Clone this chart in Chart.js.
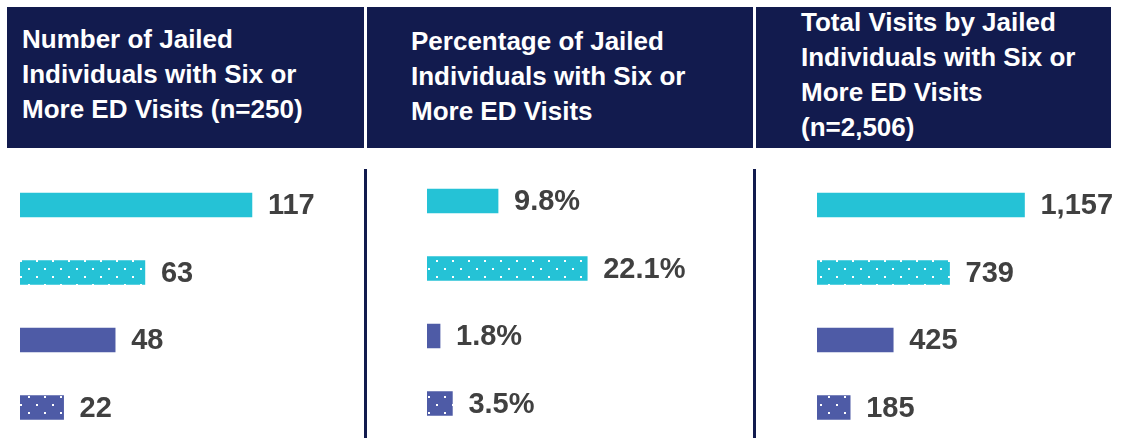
<!DOCTYPE html>
<html>
<head>
<meta charset="utf-8">
<title>Jailed Individuals with Six or More ED Visits</title>
<script src="https://cdn.jsdelivr.net/npm/chart.js@4/dist/chart.umd.min.js"></script>
<style>
  body { margin: 0; background: #fff; }
  #wrap { position: relative; width: 1125px; height: 438px; overflow: hidden; background: #fff; }
  .head { position: absolute; top: 7px; height: 141px; background: #121b4e; }
  .head .txt {
    position: absolute;
    color: #fff;
    font-family: 'Liberation Sans', Arial, sans-serif;
    font-weight: bold;
    font-size: 26px;
    line-height: 35px;
    white-space: nowrap;
  }
  .divider { position: absolute; top: 169px; width: 3px; height: 269px; background: #121b4e; }
  canvas { position: absolute; }
</style>
</head>
<body>
<div id="wrap">
  <div class="head" style="left:7px;width:357px">
    <div class="txt" style="left:15px;top:15px">Number of Jailed<br>Individuals with Six or<br>More ED Visits (n=250)</div>
  </div>
  <div class="head" style="left:367px;width:386px">
    <div class="txt" style="left:44px;top:17px">Percentage of Jailed<br>Individuals with Six or<br>More ED Visits</div>
  </div>
  <div class="head" style="left:756px;width:355px">
    <div class="txt" style="left:45px;top:-2px">Total Visits by Jailed<br>Individuals with Six or<br>More ED Visits<br>(n=2,506)</div>
  </div>

  <div class="divider" style="left:364px"></div>
  <div class="divider" style="left:753px"></div>

  <canvas id="countChart" width="364" height="290" style="left:0;top:160px"></canvas>
  <canvas id="shareChart" width="386" height="290" style="left:367px;top:156px"></canvas>
  <canvas id="visitChart" width="369" height="290" style="left:756px;top:160px"></canvas>
</div>

<script>
// groups are the same four rows in every panel
const groups = ['Group 1', 'Group 2', 'Group 3', 'Group 4'];
const jailedCounts = [117, 63, 48, 22];
const jailedShares = [9.8, 22.1, 1.8, 3.5];
const visitTotals = [1157, 739, 425, 185];

const CYAN = '#25c2d6';
const BLUE = '#4e5ba6';
const LABEL_COLOR = '#404040';

// white dot lattice over a base colour, anchored to the page so all panels line up
function dotPattern(ctx, color, left, top) {
  const tile = document.createElement('canvas');
  tile.width = 16;
  tile.height = 16;
  const g = tile.getContext('2d');
  g.fillStyle = color;
  g.fillRect(0, 0, 16, 16);
  g.fillStyle = '#fff';
  g.fillRect(4, 4, 2, 2);
  g.fillRect(12, 12, 2, 2);
  const p = ctx.createPattern(tile, 'repeat');
  p.setTransform(new DOMMatrix([1, 0, 0, 1, -(left % 16), -(top % 16)]));
  return p;
}

// prints the value just past the end of each bar
const valueLabels = {
  id: 'valueLabels',
  afterDatasetsDraw(chart, args, opts) {
    const ctx = chart.ctx;
    const meta = chart.getDatasetMeta(0);
    const values = chart.data.datasets[0].data;
    ctx.save();
    ctx.font = 'bold 29px "Liberation Sans", Arial, sans-serif';
    ctx.fillStyle = LABEL_COLOR;
    ctx.textBaseline = 'middle';
    ctx.textAlign = 'left';
    meta.data.forEach((bar, i) => {
      ctx.fillText(opts.format(values[i]), bar.x + 16, bar.y + 1);
    });
    ctx.restore();
  }
};

function makeChart(id, values, max, padLeft, padRight, format) {
  const canvas = document.getElementById(id);
  const ctx = canvas.getContext('2d');
  const left = parseInt(canvas.style.left);
  const top = parseInt(canvas.style.top);

  return new Chart(ctx, {
    type: 'bar',
    data: {
      labels: groups,
      datasets: [{
        data: values,
        backgroundColor: [
          CYAN,
          dotPattern(ctx, CYAN, left, top),
          BLUE,
          dotPattern(ctx, BLUE, left, top)
        ],
        borderWidth: 0,
        barThickness: 24
      }]
    },
    options: {
      indexAxis: 'y',
      responsive: false,
      animation: false,
      layout: {
        padding: { left: padLeft, right: padRight, top: 11.25, bottom: 8.75 }
      },
      scales: {
        x: { display: false, min: 0, max: max },
        y: { display: false }
      },
      plugins: {
        legend: { display: false },
        tooltip: { enabled: false },
        valueLabels: { format: format }
      }
    },
    plugins: [valueLabels]
  });
}

makeChart('countChart', jailedCounts, 170, 20, 7, v => String(v));
makeChart('shareChart', jailedShares, 40, 60, 36, v => v.toFixed(1) + '%');
makeChart('visitChart', visitTotals, 1500, 61, 39, v => v.toLocaleString('en-US'));
</script>
</body>
</html>
